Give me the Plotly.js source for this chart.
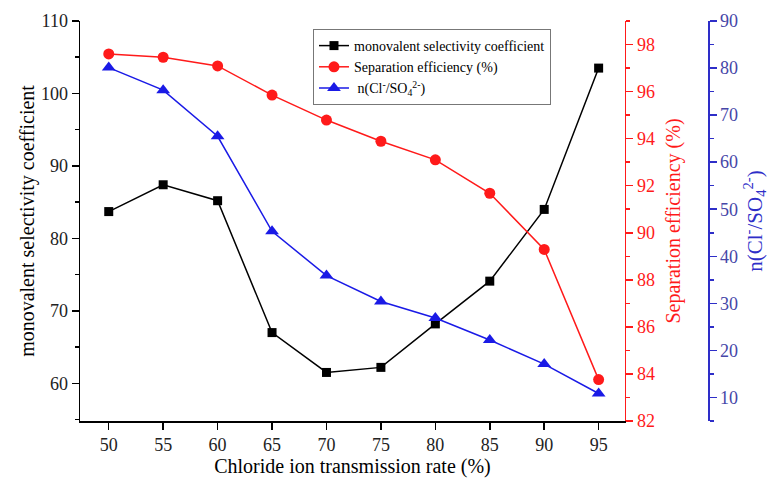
<!DOCTYPE html>
<html><head><meta charset="utf-8">
<script src="https://cdn.plot.ly/plotly-3.0.1.min.js"></script>
<style>body{margin:0;background:#fff}#chart{width:769px;height:488px}</style>
</head><body><div id="chart"></div>
<script>
const rate = [50, 55, 60, 65, 70, 75, 80, 85, 90, 95];
const selectivity = [83.7, 87.4, 85.2, 67.0, 61.5, 62.2, 68.2, 74.1, 84.0, 103.5];
const separationEff = [97.6, 97.46, 97.09, 95.85, 94.79, 93.89, 93.1, 91.68, 89.29, 83.76];
const ratioClSO4 = [80.1, 75.3, 65.5, 45.3, 35.9, 30.4, 26.9, 22.2, 17.1, 10.85];
const seriesNames = ['monovalent selectivity coefficient', 'Separation efficiency (%)', ' n(Cl<sup>-</sup>/SO<sub>4</sub><sup>2-</sup>)'];

const FONT = '"Liberation Serif", "Times New Roman", serif';
const RED = '#ff1a1a';
const BLUE = '#1a1ae6';
const BLUEAX = '#2e2ec8';
const BLUETXT = '#4646a8';

const traces = [
  {x: rate, y: selectivity, name: seriesNames[0], mode: 'lines+markers', yaxis: 'y',
   line: {color: '#000', width: 1.5}, marker: {symbol: 'square', size: 9, color: '#000'}},
  {x: rate, y: separationEff, name: seriesNames[1], mode: 'lines+markers', yaxis: 'y2',
   line: {color: RED, width: 1.5}, marker: {symbol: 'circle', size: 11, color: RED}},
  {x: rate, y: ratioClSO4, name: seriesNames[2], mode: 'lines+markers', yaxis: 'y3',
   line: {color: BLUE, width: 1.5}, marker: {symbol: 'triangle-up', size: 12, color: BLUE}}
];

const layout = {
  width: 769, height: 488,
  margin: {l: 80, r: 61, t: 21, b: 67},
  paper_bgcolor: '#fff', plot_bgcolor: '#fff',
  font: {family: FONT, size: 18, color: '#000'},
  showlegend: true,
  legend: {x: 0.371, y: 0.98, xanchor: 'left', yanchor: 'top',
    bordercolor: '#777', borderwidth: 1, bgcolor: '#fff',
    font: {family: FONT, size: 14, color: '#000'}, tracegroupgap: 0},
  xaxis: {domain: [0, 0.8678], range: [47.36, 97.42], showgrid: false, zeroline: false,
    showline: true, linecolor: '#000', linewidth: 1.5,
    ticks: 'outside', ticklen: 7, tickwidth: 1.5, tickcolor: '#000',
    tickvals: rate, ticktext: rate.map(String),
    tickfont: {family: FONT, size: 18, color: '#222'},
    title: {text: 'Chloride ion transmission rate (%)', font: {family: FONT, size: 20, color: '#000'}, standoff: 3}},
  yaxis: {range: [54.8, 110], showgrid: false, zeroline: false,
    showline: true, linecolor: '#000', linewidth: 1.5,
    ticks: 'outside', ticklen: 7, tickwidth: 1.5, tickcolor: '#000', dtick: 10, tick0: 60,
    minor: {dtick: 5, tick0: 55, ticks: 'outside', ticklen: 4, tickwidth: 1.5, tickcolor: '#000', showgrid: false},
    tickfont: {family: FONT, size: 18, color: '#222'},
    title: {text: 'monovalent selectivity coefficient', font: {family: FONT, size: 20, color: '#000'}, standoff: 1}},
  yaxis2: {overlaying: 'y', side: 'right', anchor: 'x', range: [82, 99], showgrid: false, zeroline: false,
    showline: true, linecolor: RED, linewidth: 1.5,
    ticks: 'outside', ticklen: 7, tickwidth: 1.5, tickcolor: RED, dtick: 2, tick0: 82,
    minor: {dtick: 1, ticks: 'outside', ticklen: 4, tickwidth: 1.5, tickcolor: RED, showgrid: false},
    tickfont: {family: FONT, size: 18, color: RED},
    title: {text: 'Separation efficiency (%)', font: {family: FONT, size: 20, color: RED}, standoff: 12}},
  yaxis3: {overlaying: 'y', side: 'right', anchor: 'free', position: 1, range: [5, 90], showgrid: false, zeroline: false,
    showline: true, linecolor: BLUEAX, linewidth: 1.5,
    ticks: 'outside', ticklen: 7, tickwidth: 1.5, tickcolor: BLUEAX, dtick: 10, tick0: 10,
    minor: {dtick: 5, ticks: 'outside', ticklen: 4, tickwidth: 1.5, tickcolor: BLUEAX, showgrid: false},
    tickfont: {family: FONT, size: 18, color: BLUETXT},
    title: {text: 'n(Cl<sup>-</sup>/SO<sub>4</sub><sup>2-</sup>)', font: {family: FONT, size: 21, color: BLUEAX}, standoff: 13}}
};

Plotly.newPlot('chart', traces, layout, {displayModeBar: false, staticPlot: true});
</script></body></html>
